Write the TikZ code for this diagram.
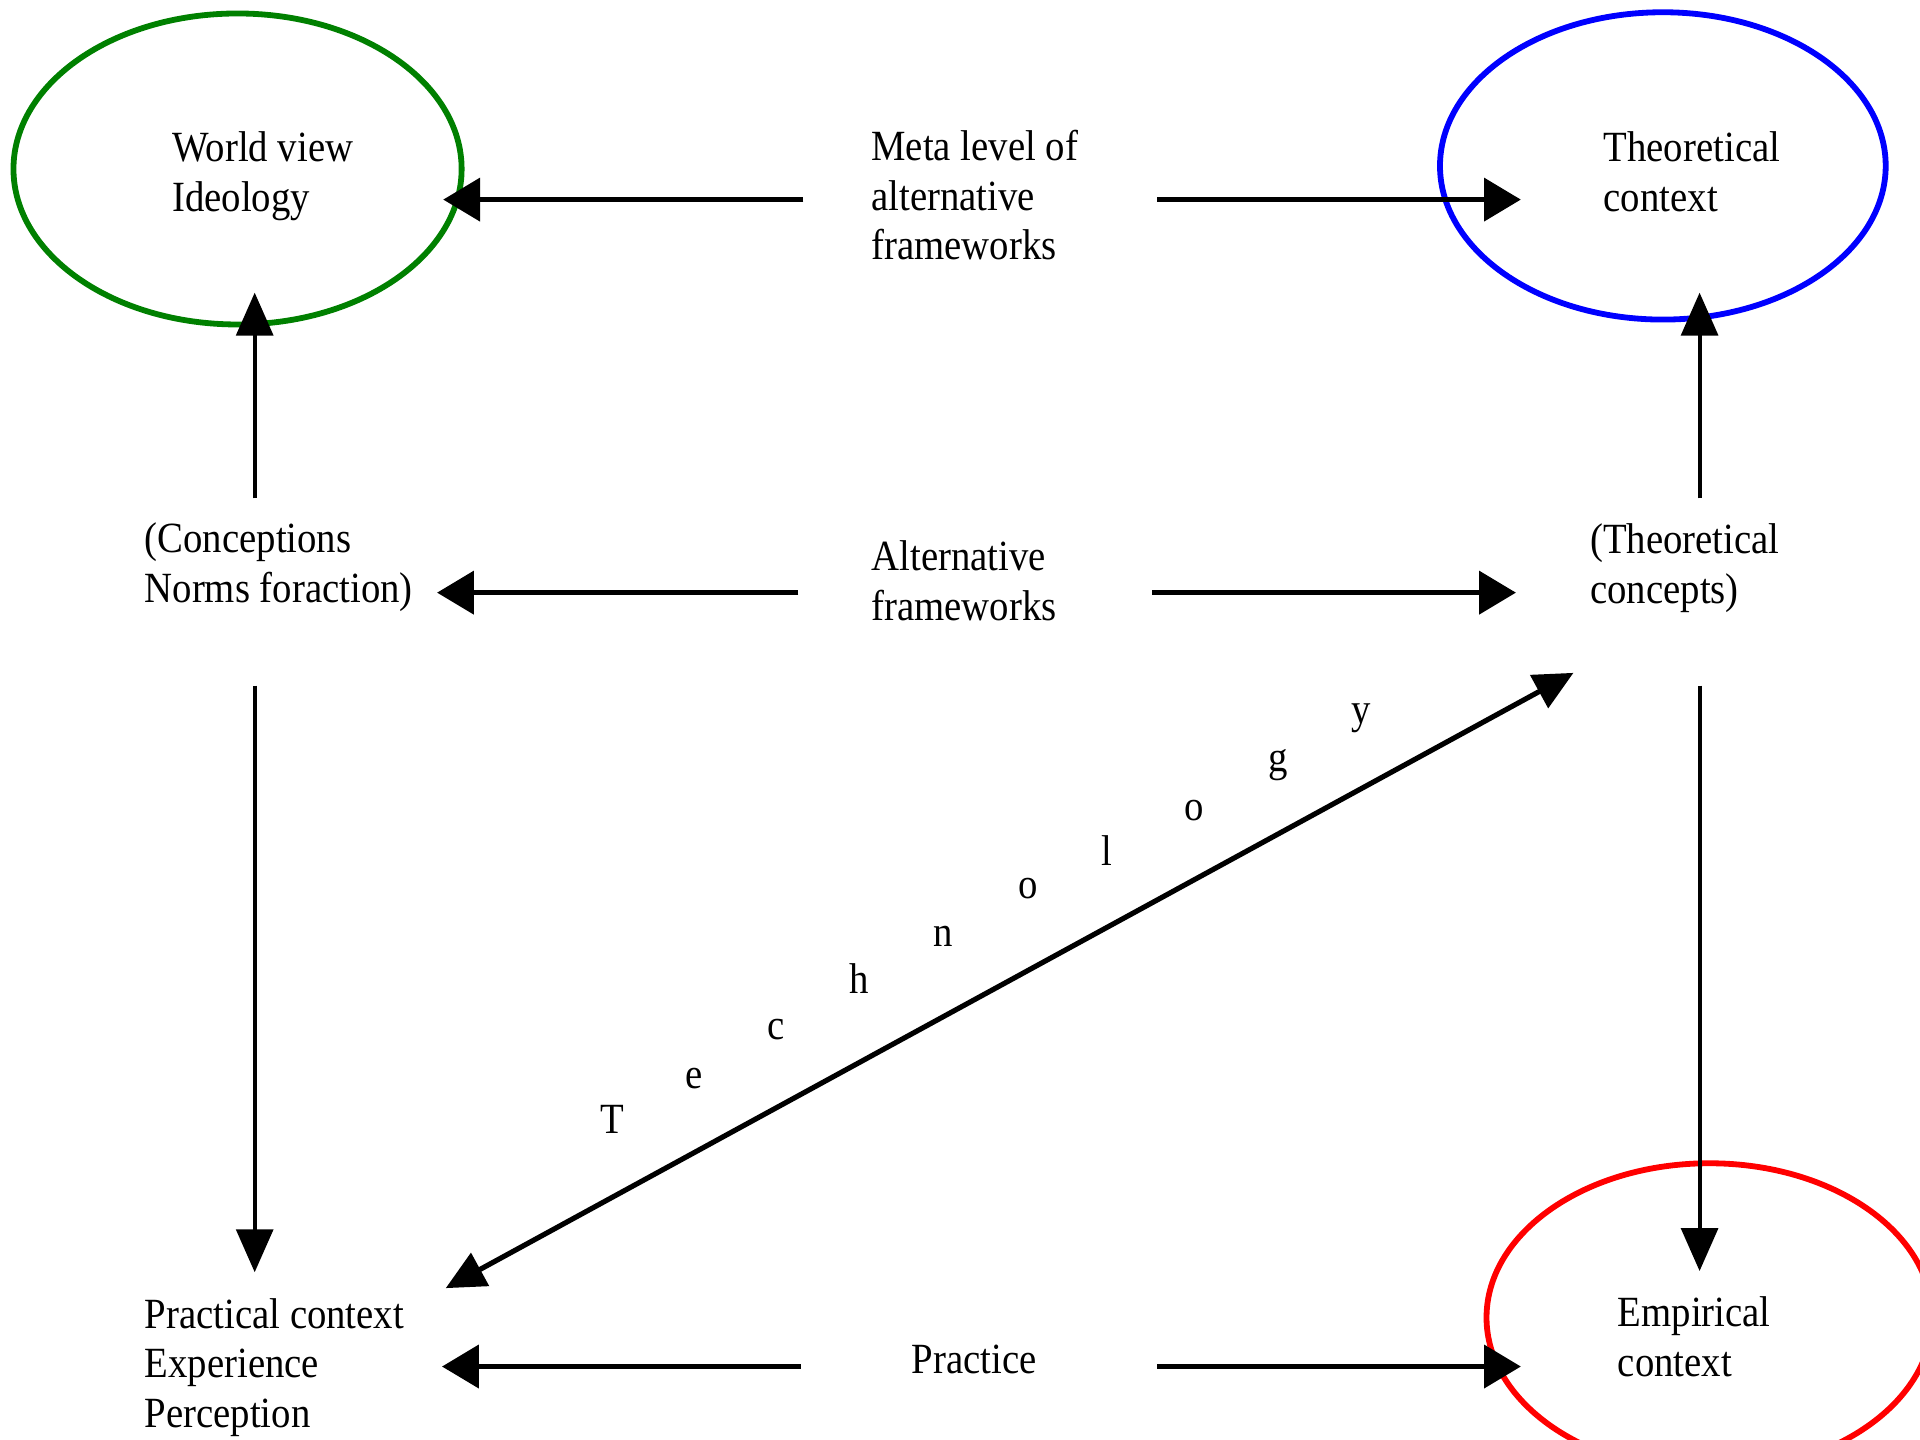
\documentclass[tikz,border=0pt]{standalone}
\usepackage{fontspec}
\setmainfont{Liberation Serif}[FakeStretch=0.9]
\usetikzlibrary{arrows.meta}
\definecolor{wordgreen}{RGB}{0,128,0}
\tikzstyle{txt} = [anchor=base west, align=left, inner sep=0pt]
\tikzstyle{harrow} = [line width=1pt, -{Triangle[length=0.3cm,width=0.35cm]}]
\tikzstyle{varrow} = [line width=0.9pt, -{Triangle[length=0.35cm,width=0.3cm]}]

\begin{document}
\begin{tikzpicture}[x=0.01cm,y=-0.01cm,font=\fontsize{10}{11.5}\selectfont]
\useasboundingbox (0,0) rectangle (1568,1176);
\clip (0,0) rectangle (1568,1176);
\def\ellWorld{(194,138) ellipse (183 and 127)}
\def\ellTheory{(1358,135.5) ellipse (182 and 125.5)}
\def\ellEmpir{(1396,1076) ellipse (182 and 126)}
\draw[wordgreen, line width=1.35pt] \ellWorld;
\draw[blue, line width=1.35pt] \ellTheory;
\draw[red, line width=1.35pt] \ellEmpir;
% texts (placed at the baseline of their last line)
\node[txt] (world) at (140,172.5) {World view\\Ideology};
\node[txt] (meta) at (711,212) {Meta level of\\alternative\\frameworks};
\node[txt] (thcontext) at (1309,172.5) {Theoretical\\context};
\node[txt] (concep) at (117.5,492) {(Conceptions\\Norms foraction)};
\node[txt] (altern) at (711,506.5) {Alternative\\frameworks};
\node[txt] (thconcept) at (1298,492.5) {(Theoretical\\concepts)};
\node[txt] (practical) at (117.5,1165.5) {Practical context\\Experience\\Perception};
\node[txt] (practice) at (744,1122) {Practice};
\node[txt] (empir) at (1320.5,1124) {Empirical\\context};
\foreach \ch/\px/\py [count=\i] in {T/490/925.5, e/559/889, c/626/849, h/693/811, n/762/773,
    o/831/734, l/899/707, o/967/670, g/1035/630, y/1103/590.5}
  \node[txt] (tech\i) at (\px,\py) {\ch};
% arrow ends
\coordinate (meta-l) at (656,163);
\coordinate (meta-r) at (945,163);
\coordinate (world-r) at (362,163);
\coordinate (thcontext-l) at (1242,163);
\coordinate (altern-l) at (652,484);
\coordinate (altern-r) at (941,484);
\coordinate (concep-r) at (357,484);
\coordinate (thconcept-l) at (1238,484);
\coordinate (concep-t) at (208,407);
\coordinate (concep-b) at (208,560);
\coordinate (world-b) at (208,239);
\coordinate (practical-t) at (208,1039);
\coordinate (thconcept-t) at (1388,407);
\coordinate (thconcept-b) at (1388,560);
\coordinate (thcontext-b) at (1388,239);
\coordinate (empir-t) at (1388,1038);
\coordinate (practice-l) at (654,1116);
\coordinate (practice-r) at (945,1116);
\coordinate (practical-r) at (361,1116);
\coordinate (empir-l) at (1242,1116);
\coordinate (tech-a) at (364,1052);
\coordinate (tech-b) at (1285,549.5);
\draw[harrow] (meta-l) -- (world-r);
\draw[harrow] (meta-r) -- (thcontext-l);
\draw[harrow] (altern-l) -- (concep-r);
\draw[harrow] (altern-r) -- (thconcept-l);
\draw[harrow] (practice-l) -- (practical-r);
\draw[harrow] (practice-r) -- (empir-l);
\draw[varrow] (concep-t) -- (world-b);
\draw[varrow] (concep-b) -- (practical-t);
\draw[varrow] (thconcept-t) -- (thcontext-b);
\draw[varrow] (thconcept-b) -- (empir-t);
\draw[line width=1.2pt, {Triangle[length=0.32cm,width=0.3cm]}-{Triangle[length=0.32cm,width=0.3cm]}] (tech-a) -- (tech-b);
\end{tikzpicture}
\end{document}
